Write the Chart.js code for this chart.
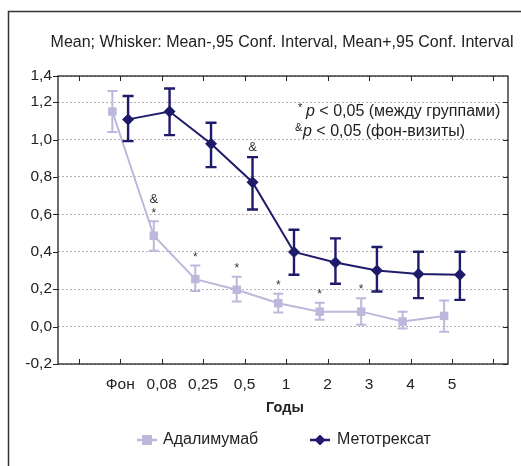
<!DOCTYPE html>
<html>
<head>
<meta charset="utf-8">
<script src="https://cdn.jsdelivr.net/npm/chart.js@4"></script>
<style>
  html, body { margin: 0; padding: 0; background: #fff; }
  #wrap { width: 521px; height: 466px; }
</style>
</head>
<body>
<div id="wrap"><canvas id="chart" width="521" height="466"></canvas></div>
<script>
// categories (visits)
const visits = ['Фон', '0,08', '0,25', '0,5', '1', '2', '3', '4', '5'];

// Адалимумаб: mean and 95% CI
const adaMean  = [1.15, 0.486, 0.254, 0.197, 0.125, 0.080, 0.080, 0.027, 0.057];
const adaLow   = [1.04, 0.406, 0.190, 0.134, 0.075, 0.036, 0.010, -0.010, -0.027];
const adaHigh  = [1.26, 0.563, 0.327, 0.266, 0.175, 0.128, 0.152, 0.080, 0.140];

// Метотрексат: mean and 95% CI
const mtxMean  = [1.108, 1.150, 0.978, 0.772, 0.399, 0.343, 0.300, 0.281, 0.277];
const mtxLow   = [0.992, 1.024, 0.853, 0.626, 0.277, 0.229, 0.188, 0.152, 0.143];
const mtxHigh  = [1.233, 1.273, 1.090, 0.906, 0.518, 0.472, 0.426, 0.400, 0.400];

// significance marks above Адалимумаб / Метотрексат points
const adaMarks = ['', '&*', '*', '*', '*', '*', '*', '', ''];
const mtxMarks = ['', '', '', '&', '', '', '', '', ''];

const yTicks = [-0.2, 0, 0.2, 0.4, 0.6, 0.8, 1.0, 1.2];
const yTop = 1.34;   // top of the frame carries the "1,4" label

const adaColor = '#bcb8dc';
const mtxColor = '#1e1b6b';
const textColor = '#222';
const FONT = '"Liberation Sans", Arial, sans-serif';

const shift = 0.19;
const pts = (means, dx) => means.map((v, i) => ({ x: i + dx, y: v }));

const whiskers = {
  id: 'whiskers',
  afterDatasetsDraw(chart) {
    const { ctx, scales: { x, y } } = chart;
    const sets = [
      { low: adaLow, high: adaHigh, dx: -shift, color: adaColor, w: 2, cap: 5 },
      { low: mtxLow, high: mtxHigh, dx: shift, color: mtxColor, w: 2.4, cap: 5.5 }
    ];
    ctx.save();
    sets.forEach(s => {
      ctx.strokeStyle = s.color;
      ctx.lineWidth = s.w;
      s.low.forEach((lo, i) => {
        const px = x.getPixelForValue(i + s.dx);
        const y1 = y.getPixelForValue(lo), y2 = y.getPixelForValue(s.high[i]);
        ctx.beginPath();
        ctx.moveTo(px, y1); ctx.lineTo(px, y2);
        ctx.moveTo(px - s.cap, y1); ctx.lineTo(px + s.cap, y1);
        ctx.moveTo(px - s.cap, y2); ctx.lineTo(px + s.cap, y2);
        ctx.stroke();
      });
    });
    // significance marks
    ctx.fillStyle = '#333';
    ctx.textAlign = 'center';
    ctx.textBaseline = 'middle';
    const drawMarks = (marks, high, dx) => marks.forEach((m, i) => {
      if (!m) return;
      const px = x.getPixelForValue(i + dx);
      let py = y.getPixelForValue(high[i]) - 10;
      m.split('').reverse().forEach(ch => {
        ctx.font = (ch === '*' ? '12px ' : '13px ') + FONT;
        ctx.fillText(ch, px, ch === '*' ? py + 2 : py);
        py -= 12;
      });
    });
    drawMarks(adaMarks, adaHigh, -shift);
    drawMarks(mtxMarks, mtxHigh, shift);
    ctx.restore();
  }
};

const frame = {
  id: 'frame',
  afterDraw(chart) {
    const { ctx, chartArea: a, scales: { x, y } } = chart;
    ctx.save();
    // outer frame of the figure
    ctx.strokeStyle = '#333';
    ctx.lineWidth = 1.5;
    ctx.beginPath();
    ctx.moveTo(8.5, 470); ctx.lineTo(8.5, 11.5); ctx.lineTo(525, 11.5);
    ctx.stroke();
    // plot frame
    ctx.strokeStyle = '#222';
    ctx.lineWidth = 1.3;
    ctx.strokeRect(a.left, a.top, a.right - a.left, a.bottom - a.top);
    // x tick marks, inward on top and bottom
    ctx.lineWidth = 1;
    ctx.beginPath();
    for (let i = -1; i <= 9; i++) {
      const px = Math.round(x.getPixelForValue(i)) + 0.5;
      ctx.moveTo(px, a.bottom); ctx.lineTo(px, a.bottom - 5);
      ctx.moveTo(px, a.top); ctx.lineTo(px, a.top + 5);
    }
    // y tick marks: outward on left, inward on right
    yTicks.forEach(v => {
      const py = Math.round(y.getPixelForValue(v)) + 0.5;
      ctx.moveTo(a.left - 5, py); ctx.lineTo(a.left, py);
      ctx.moveTo(a.right, py); ctx.lineTo(a.right - 5, py);
    });
    ctx.moveTo(a.left - 5, a.top + 0.5); ctx.lineTo(a.left, a.top + 0.5);
    ctx.stroke();

    // heading
    ctx.fillStyle = textColor;
    ctx.textBaseline = 'middle';
    ctx.textAlign = 'center';
    ctx.font = '16px ' + FONT;
    ctx.fillText('Mean; Whisker: Mean-,95 Conf. Interval, Mean+,95 Conf. Interval', 282, 43);
    // axis title
    ctx.font = 'bold 14.5px ' + FONT;
    ctx.fillText('Годы', 285, 408);

    // note in plot
    ctx.textAlign = 'left';
    const note = (sym, rest, xx, yy) => {
      ctx.font = '11px ' + FONT;
      ctx.fillText(sym, xx, yy - 4);
      ctx.font = 'italic 16px ' + FONT;
      ctx.fillText('p', xx + 8, yy);
      const pw = ctx.measureText('p').width;
      ctx.font = '16px ' + FONT;
      ctx.fillText(rest, xx + 8 + pw, yy);
    };
    note('*', ' < 0,05 (между группами)', 298, 112);
    note('&', ' < 0,05 (фон-визиты)', 295, 132);

    // legend
    ctx.font = '16px ' + FONT;
    ctx.lineWidth = 2.5;
    ctx.strokeStyle = adaColor;
    ctx.beginPath(); ctx.moveTo(137, 440); ctx.lineTo(157, 440); ctx.stroke();
    ctx.fillStyle = adaColor;
    ctx.fillRect(142, 435, 10, 10);
    ctx.strokeStyle = mtxColor;
    ctx.beginPath(); ctx.moveTo(310, 440); ctx.lineTo(330, 440); ctx.stroke();
    ctx.fillStyle = mtxColor;
    ctx.beginPath();
    ctx.moveTo(320, 434.5); ctx.lineTo(325.5, 440); ctx.lineTo(320, 445.5); ctx.lineTo(314.5, 440);
    ctx.closePath(); ctx.fill();
    ctx.fillStyle = textColor;
    ctx.fillText(chart.data.datasets[0].label, 163, 440);
    ctx.fillText(chart.data.datasets[1].label, 337, 440);
    ctx.restore();
  }
};

new Chart(document.getElementById('chart'), {
  type: 'line',
  data: {
    datasets: [
      {
        label: 'Адалимумаб',
        data: pts(adaMean, -shift),
        borderColor: adaColor,
        backgroundColor: adaColor,
        borderWidth: 2,
        pointStyle: 'rect',
        pointRadius: 6,
        pointBorderWidth: 0,
        tension: 0
      },
      {
        label: 'Метотрексат',
        data: pts(mtxMean, shift),
        borderColor: mtxColor,
        backgroundColor: mtxColor,
        borderWidth: 2,
        pointStyle: 'rectRot',
        pointRadius: 6,
        pointBorderWidth: 0,
        tension: 0
      }
    ]
  },
  options: {
    responsive: false,
    animation: false,
    devicePixelRatio: 1,
    layout: { padding: { left: 0, top: 76, right: 13, bottom: 0 } },
    plugins: {
      legend: { display: false },
      tooltip: { enabled: false },
      title: { display: false }
    },
    scales: {
      x: {
        type: 'linear',
        min: -1.5,
        max: 9.35,
        afterFit(s) { s.height = 102; },
        afterBuildTicks(s) { s.ticks = visits.map((_, i) => ({ value: i })); },
        grid: { display: false, drawTicks: false },
        border: { display: false },
        ticks: {
          padding: 11,
          color: textColor,
          font: { family: FONT, size: 15.5 },
          maxRotation: 0,
          autoSkip: false,
          callback: v => visits[v]
        }
      },
      y: {
        min: -0.2,
        max: yTop,
        afterFit(s) { s.width = 58; },
        afterBuildTicks(s) { s.ticks = yTicks.concat([yTop]).map(v => ({ value: v })); },
        grid: { color: '#b4b4b4', lineWidth: 1, drawTicks: false },
        border: { display: false, dash: [2, 2] },
        ticks: {
          padding: 6,
          color: textColor,
          font: { family: FONT, size: 15.5 },
          callback: v => v > 1.3 ? '1,4' : v.toFixed(1).replace('.', ',')
        }
      }
    }
  },
  plugins: [whiskers, frame]
});
</script>
</body>
</html>
